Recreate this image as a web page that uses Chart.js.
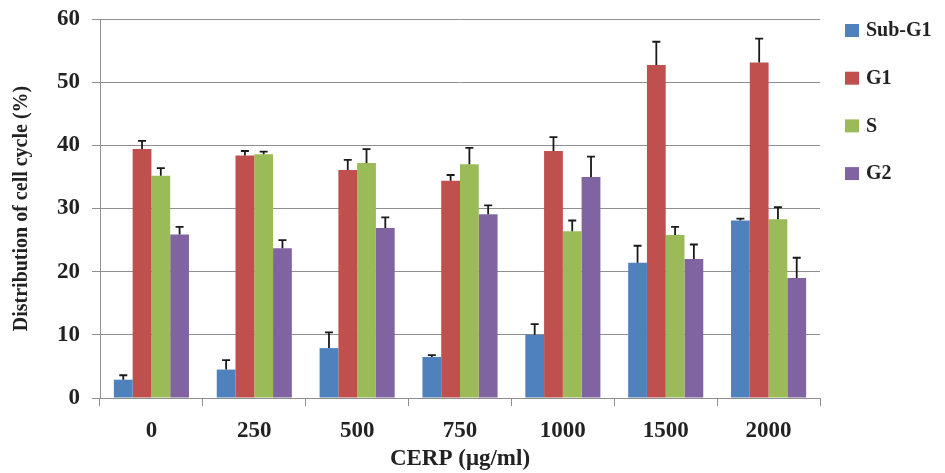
<!DOCTYPE html>
<html>
<head>
<meta charset="utf-8">
<script src="https://cdn.jsdelivr.net/npm/chart.js@4"></script>
<style>
  html, body { margin: 0; padding: 0; background: #fff; }
  #wrap { width: 945px; height: 473px; }
</style>
</head>
<body>
<div id="wrap"><canvas id="cycleChart"></canvas></div>
<script>
// Cell cycle distribution by CERP dose
const doses = ['0', '250', '500', '750', '1000', '1500', '2000'];
const yTicks = [0, 10, 20, 30, 40, 50, 60];

const subG1 = [2.9, 4.5, 7.9, 6.5, 10.0, 21.4, 28.1];
const subG1Err = [0.7, 1.5, 2.5, 0.3, 1.7, 2.7, 0.3];
const g1 = [39.4, 38.4, 36.1, 34.4, 39.1, 52.7, 53.1];
const g1Err = [1.3, 0.7, 1.6, 0.9, 2.2, 3.7, 3.8];
const sPhase = [35.2, 38.6, 37.2, 37.0, 26.4, 25.8, 28.3];
const sPhaseErr = [1.2, 0.4, 2.2, 2.6, 1.7, 1.3, 1.9];
const g2 = [25.9, 23.7, 26.9, 29.1, 35.0, 22.0, 19.0];
const g2Err = [1.2, 1.3, 1.7, 1.4, 3.2, 2.3, 3.2];

const seriesNames = ['Sub-G1', 'G1', 'S', 'G2'];
const seriesColors = ['#4f81bd', '#c0504d', '#9bbb59', '#8064a2'];
const seriesValues = [subG1, g1, sPhase, g2];
const seriesErrors = [subG1Err, g1Err, sPhaseErr, g2Err];

const serif = '"Liberation Serif", "Times New Roman", serif';
const gridColor = '#8f8f8f';

// upward-only error bars with a short cap
const errorBars = {
    id: 'errorBars',
    afterDatasetsDraw(chart) {
        const ctx = chart.ctx;
        const y = chart.scales.y;
        ctx.save();
        ctx.strokeStyle = '#1a1a1a';
        ctx.lineWidth = 1.8;
        chart.data.datasets.forEach((ds, i) => {
            const meta = chart.getDatasetMeta(i);
            meta.data.forEach((bar, j) => {
                const top = y.getPixelForValue(ds.data[j]);
                const end = y.getPixelForValue(ds.data[j] + ds.errors[j]);
                ctx.beginPath();
                ctx.moveTo(bar.x, top);
                ctx.lineTo(bar.x, end);
                ctx.moveTo(bar.x - 4, end);
                ctx.lineTo(bar.x + 4, end);
                ctx.stroke();
            });
        });
        ctx.restore();
    }
};

// legend stacked on the right side
const sideLegend = {
    id: 'sideLegend',
    afterDraw(chart) {
        const ctx = chart.ctx;
        ctx.save();
        ctx.font = 'bold 20px ' + serif;
        ctx.textBaseline = 'middle';
        ctx.textAlign = 'left';
        chart.data.datasets.forEach((ds, i) => {
            const cy = 30 + i * 47.7;
            ctx.fillStyle = ds.backgroundColor;
            ctx.fillRect(845, cy - 6, 14, 13);
            ctx.fillStyle = '#222';
            ctx.fillText(ds.label, 866, cy + 1);
        });
        ctx.restore();
    }
};

new Chart(document.getElementById('cycleChart'), {
    type: 'bar',
    data: {
        labels: doses,
        datasets: seriesNames.map((name, i) => ({
            label: name,
            data: seriesValues[i],
            errors: seriesErrors[i],
            backgroundColor: seriesColors[i],
            borderWidth: 0,
            barPercentage: 1.0,
            categoryPercentage: 0.73
        }))
    },
    options: {
        responsive: true,
        maintainAspectRatio: false,
        animation: false,
        layout: { padding: { left: 0, top: 19, right: 125, bottom: 0 } },
        plugins: {
            legend: { display: false },
            tooltip: { enabled: false }
        },
        scales: {
            x: {
                afterFit(scale) { scale.height = 75; },
                grid: {
                    drawOnChartArea: false,
                    drawTicks: true,
                    tickLength: 8,
                    offset: true,
                    color: gridColor
                },
                border: { color: gridColor, width: 1 },
                ticks: {
                    color: '#222',
                    padding: 11,
                    font: { family: serif, size: 23, weight: 'bold' }
                },
                title: {
                    display: true,
                    text: 'CERP (μg/ml)',
                    color: '#222',
                    padding: { top: 0, bottom: 0 },
                    font: { family: serif, size: 23, weight: 'bold' }
                }
            },
            y: {
                min: 0,
                max: 60,
                afterFit(scale) {
                    scale.width = 100;
                    scale.paddingTop = 0;
                    scale.paddingBottom = 0;
                },
                afterBuildTicks(scale) { scale.ticks = yTicks.map(v => ({ value: v })); },
                grid: { color: gridColor, lineWidth: 1, tickLength: 8 },
                border: { color: gridColor, width: 1 },
                ticks: {
                    color: '#222',
                    padding: 12,
                    font: { family: serif, size: 23, weight: 'bold' }
                },
                title: {
                    display: true,
                    text: 'Distribution of cell cycle (%)',
                    color: '#222',
                    padding: { top: 10, bottom: 0 },
                    font: { family: serif, size: 20, weight: 'bold' }
                }
            }
        }
    },
    plugins: [errorBars, sideLegend]
});
</script>
</body>
</html>
